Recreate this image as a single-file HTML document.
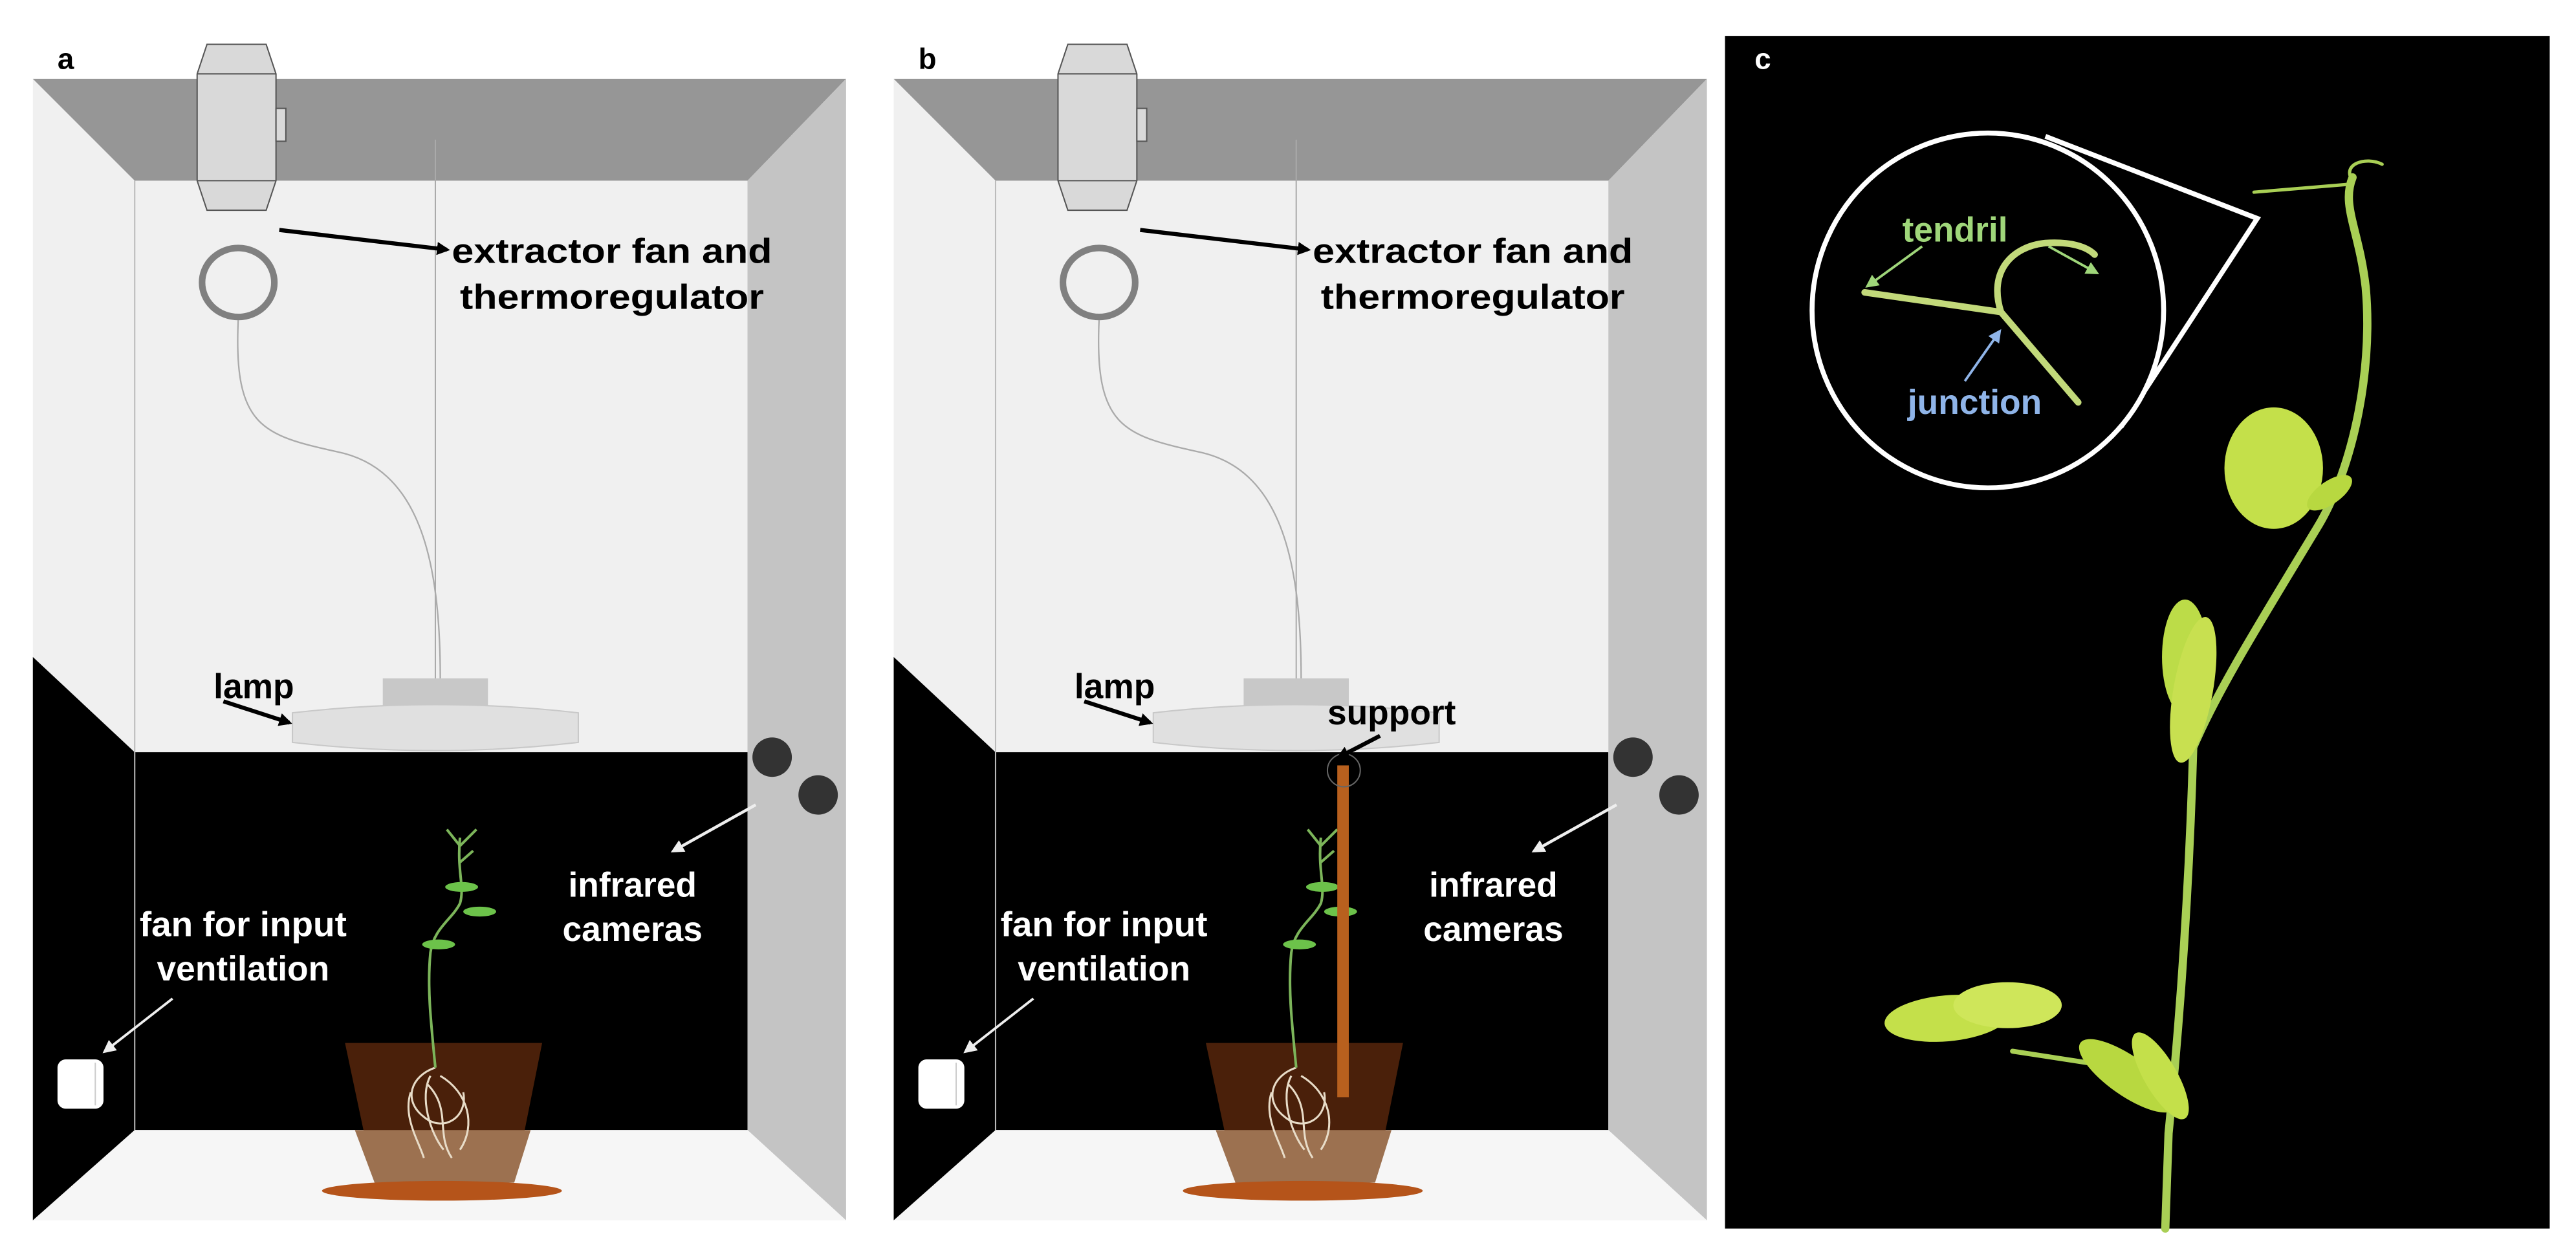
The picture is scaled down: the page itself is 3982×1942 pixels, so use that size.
<!DOCTYPE html>
<html><head><meta charset="utf-8"><style>
html,body{margin:0;padding:0;background:#fff;overflow:hidden}
svg{display:block}
text{font-family:"Liberation Sans",Arial,sans-serif;font-weight:bold}
</style></head><body>
<svg width="3982" height="1942" viewBox="0 0 1568 764.7" xmlns="http://www.w3.org/2000/svg">
<defs>
<marker id="ab" markerWidth="8" markerHeight="8" refX="6" refY="4" orient="auto" markerUnits="userSpaceOnUse"><path d="M0,0 L8,4 L0,8 Z" fill="#000"/></marker>
<marker id="aw" markerWidth="8" markerHeight="8" refX="6" refY="4" orient="auto" markerUnits="userSpaceOnUse"><path d="M0,0 L8,4 L0,8 Z" fill="#eee"/></marker>
<marker id="ag" markerWidth="8" markerHeight="8" refX="6" refY="4" orient="auto" markerUnits="userSpaceOnUse"><path d="M0,0 L8,4 L0,8 Z" fill="#9fd67a"/></marker>
<marker id="abl" markerWidth="8" markerHeight="8" refX="6" refY="4" orient="auto" markerUnits="userSpaceOnUse"><path d="M0,0 L8,4 L0,8 Z" fill="#8fb4e8"/></marker>
<g id="box">
  <rect x="82" y="110" width="373" height="348" fill="#f0f0f0"/>
  <rect x="82" y="458" width="373" height="230" fill="#000"/>
  <polygon points="20,48 82,110 82,458 20,400" fill="#f0f0f0"/>
  <polygon points="20,400 82,458 82,688 20,743" fill="#000"/>
  <line x1="82" y1="110" x2="82" y2="688" stroke="#bbb" stroke-width="0.8"/>
  <polygon points="20,48 515,48 455,110 82,110" fill="#969696"/>
  <polygon points="455,110 515,48 515,743 455,688" fill="#c4c4c4"/>
  <polygon points="82,688 455,688 515,743 20,743" fill="#f6f6f6"/>
  <line x1="265" y1="85" x2="265" y2="415" stroke="#aaa" stroke-width="0.8"/>
  <path d="M145,195 C142,260 160,265 205,275 C255,285 268,340 268,413" fill="none" stroke="#aaa" stroke-width="0.9"/>
  <polygon points="126,27 162,27 168,45 168,110 162,128 126,128 120,110 120,45" fill="#d9d9d9" stroke="#555" stroke-width="0.8"/>
  <line x1="120" y1="45" x2="168" y2="45" stroke="#555" stroke-width="0.8"/>
  <line x1="120" y1="110" x2="168" y2="110" stroke="#555" stroke-width="0.8"/>
  <rect x="168" y="66" width="6" height="20" fill="#d9d9d9" stroke="#555" stroke-width="0.8"/>
  <ellipse cx="145" cy="172" rx="22" ry="21" fill="none" stroke="#808080" stroke-width="4"/>
  <rect x="233" y="413" width="64" height="20" fill="#c8c8c8"/>
  <path d="M178,434 Q265,424 352,434 L352,452 Q265,462 178,452 Z" fill="#e0e0e0" stroke="#c8c8c8" stroke-width="0.8"/>
  <circle cx="470" cy="461" r="12" fill="#333"/>
  <circle cx="498" cy="484" r="12" fill="#333"/>
  <rect x="35" y="645" width="28" height="30" rx="5" fill="#fff"/>
  <line x1="58" y1="647" x2="58" y2="673" stroke="#ccc" stroke-width="0.8"/>
  <polygon points="210,635 330,635 313,720 228,720" fill="#4a200a"/>
  <polygon points="216,688 323,688 313,720 228,720" fill="#9c7150"/>
  <ellipse cx="269" cy="725" rx="73" ry="6" fill="#b5541a"/>
  <g fill="none" stroke="#e8dcc8" stroke-width="1.2">
    <path d="M265,650 C250,655 245,670 258,680 C270,690 285,680 282,665"/>
    <path d="M262,655 C255,668 262,690 270,700"/>
    <path d="M268,655 C285,665 290,685 280,700"/>
    <path d="M250,665 C245,680 255,695 258,705"/>
    <path d="M260,660 C275,675 265,690 275,705"/>
  </g>
  <g stroke="#7cb55a" stroke-width="1.6" fill="none">
    <path d="M265,650 C262,620 260,600 262,580 C264,565 275,560 280,550 C283,540 278,530 280,510"/>
    <path d="M280,515 L272,505 M280,515 L290,505 M280,525 L288,518"/>
  </g>
  <ellipse cx="281" cy="540" rx="10" ry="3" fill="#6cc24a"/>
  <ellipse cx="292" cy="555" rx="10" ry="3" fill="#6cc24a"/>
  <ellipse cx="267" cy="575" rx="10" ry="3" fill="#6cc24a"/>
</g>
</defs>

<rect width="1568" height="765" fill="#fff"/>

<!-- Panel a -->
<use href="#box"/>
<text x="35" y="42" font-size="18" fill="#000">a</text>
<line x1="170" y1="140" x2="272" y2="152" stroke="#000" stroke-width="2.5" marker-end="url(#ab)"/>
<text x="275" y="160" font-size="21" fill="#000" textLength="195" lengthAdjust="spacingAndGlyphs">extractor fan and</text>
<text x="280" y="188" font-size="21" fill="#000" textLength="185" lengthAdjust="spacingAndGlyphs">thermoregulator</text>
<text x="130" y="425" font-size="21" fill="#000">lamp</text>
<line x1="136" y1="427" x2="176" y2="440" stroke="#000" stroke-width="2.5" marker-end="url(#ab)"/>
<line x1="460" y1="490" x2="410" y2="518" stroke="#eee" stroke-width="1.8" marker-end="url(#aw)"/>
<text x="385" y="546" font-size="21" fill="#fff" text-anchor="middle">infrared</text>
<text x="385" y="573" font-size="21" fill="#fff" text-anchor="middle">cameras</text>
<text x="148" y="570" font-size="21" fill="#fff" text-anchor="middle" textLength="126" lengthAdjust="spacingAndGlyphs">fan for input</text>
<text x="148" y="597" font-size="21" fill="#fff" text-anchor="middle">ventilation</text>
<line x1="105" y1="608" x2="64" y2="640" stroke="#eee" stroke-width="1.5" marker-end="url(#aw)"/>

<!-- Panel b -->
<use href="#box" transform="translate(524,0)"/>
<rect x="814" y="466" width="7" height="202" fill="#b8601e"/>
<circle cx="818" cy="469" r="10" fill="none" stroke="#666" stroke-width="0.8"/>
<text x="559" y="42" font-size="18" fill="#000">b</text>
<line x1="694" y1="140" x2="796" y2="152" stroke="#000" stroke-width="2.5" marker-end="url(#ab)"/>
<text x="799" y="160" font-size="21" fill="#000" textLength="195" lengthAdjust="spacingAndGlyphs">extractor fan and</text>
<text x="804" y="188" font-size="21" fill="#000" textLength="185" lengthAdjust="spacingAndGlyphs">thermoregulator</text>
<text x="654" y="425" font-size="21" fill="#000">lamp</text>
<line x1="660" y1="427" x2="700" y2="440" stroke="#000" stroke-width="2.5" marker-end="url(#ab)"/>
<text x="808" y="441" font-size="21" fill="#000">support</text>
<line x1="840" y1="448" x2="815" y2="461" stroke="#000" stroke-width="2.5" marker-end="url(#ab)"/>
<line x1="984" y1="490" x2="934" y2="518" stroke="#eee" stroke-width="1.8" marker-end="url(#aw)"/>
<text x="909" y="546" font-size="21" fill="#fff" text-anchor="middle">infrared</text>
<text x="909" y="573" font-size="21" fill="#fff" text-anchor="middle">cameras</text>
<text x="672" y="570" font-size="21" fill="#fff" text-anchor="middle" textLength="126" lengthAdjust="spacingAndGlyphs">fan for input</text>
<text x="672" y="597" font-size="21" fill="#fff" text-anchor="middle">ventilation</text>
<line x1="629" y1="608" x2="588" y2="640" stroke="#eee" stroke-width="1.5" marker-end="url(#aw)"/>

<!-- Panel c -->
<rect x="1050" y="22" width="502" height="726" fill="#000"/>
<text x="1068" y="42" font-size="18" fill="#fff">c</text>
<g fill="none" stroke="#a9cf55" stroke-linecap="round">
  <path d="M1318,748 L1320,690 C1325,640 1332,560 1335,455 C1350,420 1375,380 1410,322 C1430,290 1445,230 1440,175 C1436,140 1425,125 1432,108" stroke-width="5"/>
  <path d="M1432,110 C1425,100 1440,95 1450,100" stroke-width="2"/>
  <path d="M1432,112 L1372,117" stroke-width="2"/>
  <path d="M1225,640 L1290,650" stroke-width="3"/>
</g>
<ellipse cx="1384" cy="285" rx="30" ry="37" fill="#c4e04a"/>
<ellipse cx="1418" cy="300" rx="16" ry="7" fill="#b8d840" transform="rotate(-35 1418 300)"/>
<ellipse cx="1330" cy="400" rx="14" ry="35" fill="#bcdc48"/>
<ellipse cx="1335" cy="420" rx="12" ry="45" fill="#c8e050" transform="rotate(10 1335 420)"/>
<ellipse cx="1185" cy="620" rx="38" ry="14" fill="#c4e04a" transform="rotate(-5 1185 620)"/>
<ellipse cx="1222" cy="612" rx="33" ry="14" fill="#cfe65a"/>
<ellipse cx="1295" cy="655" rx="35" ry="12" fill="#b8d840" transform="rotate(35 1295 655)"/>
<ellipse cx="1315" cy="655" rx="30" ry="10" fill="#c4e04a" transform="rotate(60 1315 655)"/>
<polyline points="1245,83 1374,133 1291,260" fill="none" stroke="#fff" stroke-width="3"/>
<ellipse cx="1210" cy="189" rx="107" ry="108" fill="#000" stroke="#fff" stroke-width="3"/>
<g fill="none" stroke="#c2d97a" stroke-linecap="round">
  <path d="M1135,178 L1218,190" stroke-width="4"/>
  <path d="M1218,190 C1210,165 1225,150 1245,148 C1260,147 1270,150 1275,155" stroke-width="4"/>
  <path d="M1218,190 L1265,245" stroke-width="4"/>
</g>
<text x="1190" y="147" font-size="21" fill="#9fd67a" text-anchor="middle">tendril</text>
<line x1="1170" y1="150" x2="1137" y2="174" stroke="#9fd67a" stroke-width="1.5" marker-end="url(#ag)"/>
<line x1="1247" y1="150" x2="1276" y2="166" stroke="#9fd67a" stroke-width="1.5" marker-end="url(#ag)"/>
<text x="1202" y="252" font-size="21" fill="#8fb4e8" text-anchor="middle">junction</text>
<line x1="1196" y1="232" x2="1217" y2="202" stroke="#8fb4e8" stroke-width="1.5" marker-end="url(#abl)"/>
</svg>
</body></html>
